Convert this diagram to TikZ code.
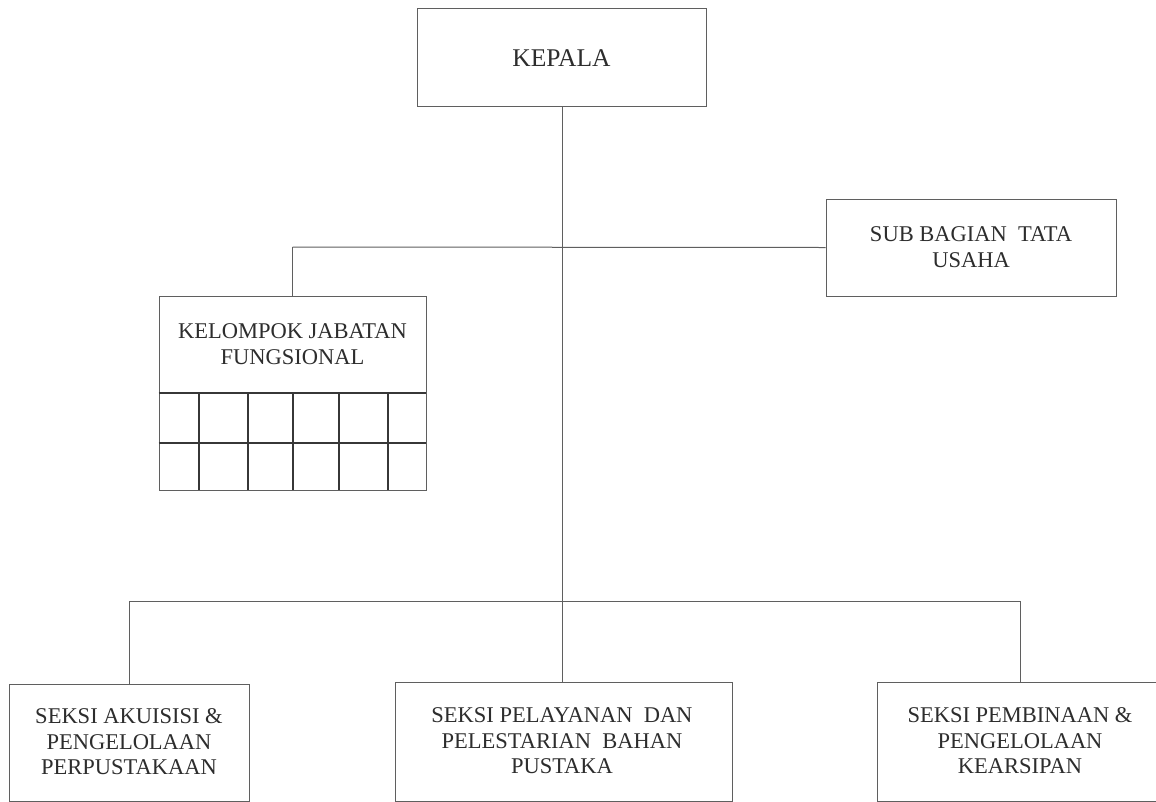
\documentclass[tikz,border=0pt]{standalone}
\usepackage{fontspec}
\setmainfont{Liberation Serif}
\definecolor{linegray}{RGB}{95,95,95}
\definecolor{gridgray}{RGB}{55,55,55}
\definecolor{textgray}{RGB}{45,45,45}
\begin{document}
\begin{tikzpicture}[x=1pt,y=-1pt,
  box/.style={draw=linegray, line width=0.9pt, inner sep=0pt},
  lbl/.style={font=\fontsize{22.5}{25.5}\selectfont, text=textgray, align=center, inner sep=0pt},
  conn/.style={draw=linegray, line width=1pt},
  grid/.style={draw=gridgray, line width=1.3pt}]
\useasboundingbox (0,0) rectangle (1156,801);
\fill[white] (0,0) rectangle (1156,801);
\begin{scope}
\clip (0,0) rectangle (1156,801);
% boxes
\node[box, minimum width=289, minimum height=98] (kepala) at (561.5,57) {};
\node[lbl, font=\fontsize{25.5}{28}\selectfont] (tkepala) at (561.5,58) {KEPALA};
\node[box, minimum width=290, minimum height=97] (sub) at (971,247.5) {};
\node[lbl] (tsub) at (971,247) {SUB BAGIAN\ \ TATA\\USAHA};
\node[box, minimum width=267, minimum height=194] (kel) at (292.5,393) {};
\node[lbl] (tkel) at (292.5,344) {KELOMPOK JABATAN\\FUNGSIONAL};
\node[box, minimum width=240, minimum height=117.5] (s1) at (129,742.75) {};
\node[lbl] (ts1) at (129,742) {SEKSI AKUISISI \&\\PENGELOLAAN\\PERPUSTAKAAN};
\node[box, minimum width=337, minimum height=119.5] (s2) at (563.5,741.75) {};
\node[lbl] (ts2) at (562,741) {SEKSI PELAYANAN\ \ DAN\\PELESTARIAN\ \ BAHAN\\PUSTAKA};
\node[box, minimum width=310, minimum height=119.5] (s3) at (1032,741.75) {};
\node[lbl] (ts3) at (1020,741) {SEKSI PEMBINAAN \&\\PENGELOLAAN\\KEARSIPAN};
% grid inside kelompok
\draw[grid] (kel.west |- 0,393) -- (kel.east |- 0,393);
\draw[grid] (kel.west |- 0,443) -- (kel.east |- 0,443);
\foreach \gx in {199,248,293,339,388}
  \draw[grid] (\gx,393) -- (\gx,490);
% connectors
\coordinate (jkel) at (292.5,247);
\coordinate (jbot) at (562,601);
\coordinate (jl) at (129,601);
\coordinate (jr) at (1020,601);
\draw[conn] (kepala.south -| jbot) -- (jbot);
\draw[conn] (jkel) -- (sub.west);
\draw[conn] (jkel) -- (kel.north);
\draw[conn] (jl) -- (jr);
\draw[conn] (jl) -- (s1.north);
\draw[conn] (jbot) -- (s2.north -| jbot);
\draw[conn] (jr) -- (s3.north -| jr);
\end{scope}
\end{tikzpicture}
\end{document}
